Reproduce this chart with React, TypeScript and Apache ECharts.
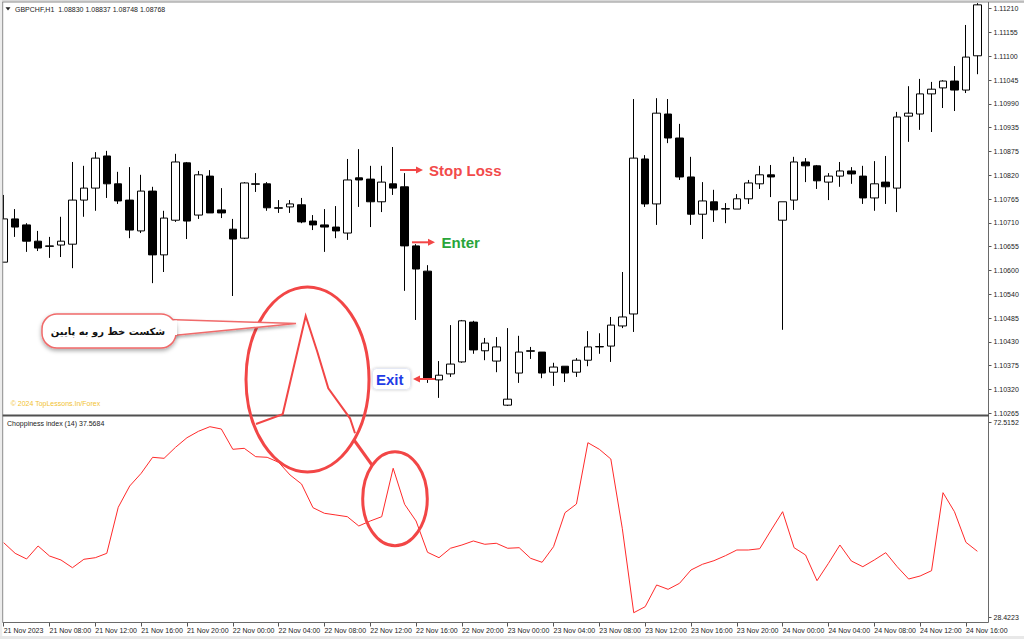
import React, { useEffect, useRef } from "react";
import * as echarts from "echarts";

const priceTickLabels = [
  "1.10265", "1.10320", "1.10375", "1.10430", "1.10485", "1.10540",
  "1.10600", "1.10655", "1.10710", "1.10765", "1.10820", "1.10875",
  "1.10935", "1.10990", "1.11045", "1.11100", "1.11155", "1.11210",
];
const priceMin = 1.10265;
const priceMax = 1.1121;

const chopTickLabels = ["28.4223", "72.5152"];
const chopMin = 28.4223;
const chopMax = 72.5152;

const xTickLabels = [
  "21 Nov 2023", "21 Nov 08:00", "21 Nov 12:00", "21 Nov 16:00", "21 Nov 20:00",
  "22 Nov 00:00", "22 Nov 04:00", "22 Nov 08:00", "22 Nov 12:00", "22 Nov 16:00",
  "22 Nov 20:00", "23 Nov 00:00", "23 Nov 04:00", "23 Nov 08:00", "23 Nov 12:00",
  "23 Nov 16:00", "23 Nov 20:00", "24 Nov 00:00", "24 Nov 04:00", "24 Nov 08:00",
  "24 Nov 12:00", "24 Nov 16:00",
];

const opens = [
  1.10618, 1.10719, 1.10705, 1.10667, 1.10656, 1.10658, 1.1066, 1.10763, 1.10791, 1.10866,
  1.10801, 1.10763, 1.10691, 1.10784, 1.10635, 1.10716, 1.1085, 1.10728, 1.10819, 1.1074,
  1.10695, 1.10674, 1.10801, 1.10801, 1.10745, 1.10747, 1.10752, 1.10714, 1.10705, 1.107,
  1.10686, 1.10815, 1.10812, 1.10759, 1.10801, 1.10794, 1.10656, 1.10597, 1.10343, 1.10357,
  1.10385, 1.10478, 1.10411, 1.10387, 1.10284, 1.10359, 1.10411, 1.10408, 1.10361, 1.10375,
  1.10361, 1.10389, 1.1042, 1.10422, 1.10469, 1.10497, 1.10859, 1.10754, 1.10964, 1.10908,
  1.10817, 1.1073, 1.10759, 1.10742, 1.10742, 1.10766, 1.10801, 1.10822, 1.10716, 1.10763,
  1.10852, 1.10843, 1.10805, 1.10819, 1.10831, 1.10819, 1.10768, 1.10805, 1.10791, 1.10959,
  1.10964, 1.11011, 1.11025, 1.11041, 1.1102, 1.111,
];
const closes = [
  1.10719, 1.107, 1.10667, 1.10651, 1.10655, 1.10667, 1.10763, 1.10791, 1.10861, 1.10801,
  1.10761, 1.10693, 1.10784, 1.10635, 1.10721, 1.10852, 1.10714, 1.10822, 1.10733, 1.10733,
  1.10672, 1.10803, 1.108, 1.10745, 1.10744, 1.10754, 1.10712, 1.10705, 1.107, 1.10691,
  1.1081, 1.1081, 1.10759, 1.10805, 1.10791, 1.10656, 1.10602, 1.10345, 1.10354, 1.1038,
  1.10481, 1.10413, 1.10429, 1.1042, 1.10298, 1.10408, 1.1041, 1.10359, 1.10373, 1.10359,
  1.10389, 1.1042, 1.10421, 1.10471, 1.1049, 1.10861, 1.10754, 1.10966, 1.10908, 1.10817,
  1.1073, 1.10761, 1.1074, 1.10743, 1.10766, 1.10803, 1.10822, 1.10817, 1.10759, 1.10852,
  1.10843, 1.10808, 1.10819, 1.10831, 1.10824, 1.10768, 1.10801, 1.10794, 1.10957, 1.10966,
  1.11011, 1.11022, 1.11041, 1.1102, 1.11097, 1.11219,
];
const lows = [
  1.10618, 1.10677, 1.10642, 1.10644, 1.10628, 1.1063, 1.10604, 1.10724, 1.10738, 1.10768,
  1.10754, 1.10674, 1.10686, 1.10569, 1.10595, 1.10712, 1.10672, 1.10719, 1.10733, 1.10721,
  1.10539, 1.10672, 1.10782, 1.10738, 1.10733, 1.10733, 1.10709, 1.10693, 1.10642, 1.10674,
  1.1067, 1.10747, 1.107, 1.10735, 1.10775, 1.10551, 1.10483, 1.10336, 1.10301, 1.1035,
  1.10383, 1.10404, 1.10389, 1.10361, 1.10282, 1.10336, 1.10392, 1.10347, 1.10329, 1.10338,
  1.1035, 1.10375, 1.10404, 1.10385, 1.10464, 1.10455, 1.10747, 1.10705, 1.10896, 1.1081,
  1.10705, 1.10672, 1.10712, 1.10709, 1.10742, 1.10754, 1.10789, 1.1077, 1.1046, 1.1074,
  1.10805, 1.10789, 1.10763, 1.10794, 1.10801, 1.10754, 1.10738, 1.10754, 1.10735, 1.10899,
  1.10927, 1.10922, 1.10978, 1.10971, 1.11013, 1.11057,
];
const highs = [
  1.10775, 1.10742, 1.10709, 1.10691, 1.10677, 1.10724, 1.10852, 1.10843, 1.10875, 1.10878,
  1.10829, 1.1084, 1.10822, 1.10794, 1.10738, 1.10871, 1.10852, 1.10831, 1.10833, 1.10791,
  1.10719, 1.10805, 1.10826, 1.10805, 1.10763, 1.10763, 1.10768, 1.10728, 1.10742, 1.10749,
  1.10859, 1.10882, 1.10843, 1.10843, 1.10887, 1.10826, 1.1066, 1.10611, 1.10387, 1.10471,
  1.10483, 1.10481, 1.10441, 1.10443, 1.10464, 1.10446, 1.1042, 1.10408, 1.10383, 1.10375,
  1.10394, 1.10457, 1.10452, 1.1049, 1.10595, 1.10999, 1.10868, 1.11001, 1.10999, 1.10941,
  1.10864, 1.10805, 1.10787, 1.10756, 1.10777, 1.1081, 1.10843, 1.10845, 1.10759, 1.10864,
  1.10861, 1.10845, 1.10826, 1.10852, 1.1084, 1.10843, 1.10854, 1.10866, 1.10969, 1.11029,
  1.11046, 1.11039, 1.11043, 1.11076, 1.11172, 1.11223,
];

const chopValues = [
  45.29, 42.89, 41.61, 44.55, 42.28, 41.38, 39.64, 41.54, 41.9, 42.89,
  53.3, 58.11, 60.98, 64.6, 64.37, 66.86, 69.03, 70.48, 71.52, 71.0,
  66.41, 66.63, 64.74, 64.6, 63.47, 60.6, 58.57, 53.21, 51.94, 51.56,
  51.17, 49.07, 50.2, 51.17, 62.12, 53.97, 50.2, 43.12, 41.9, 44.03,
  44.77, 45.68, 44.93, 45.16, 44.03, 44.16, 41.76, 40.86, 44.39, 52.07,
  54.04, 67.9, 66.41, 64.22, 48.55, 29.46, 30.82, 35.73, 34.75, 36.11,
  39.12, 40.41, 41.22, 42.35, 43.64, 43.64, 43.93, 48.16, 52.3, 44.16,
  42.51, 36.7, 40.63, 44.77, 41.15, 39.86, 41.38, 43.03, 39.86, 37.08,
  37.76, 38.96, 56.6, 52.3, 45.38, 43.35,
];

const categories = opens.map((_, i) => {
  const h = 4 + i;
  const d = 21 + Math.floor(h / 24);
  return `${d} Nov ${String(h % 24).padStart(2, "0")}:00`;
});

const FONT = "Liberation Sans";

function arrow(x1: number, y1: number, x2: number, y2: number, color: string) {
  const dir = Math.sign(x2 - x1);
  return [
    {
      type: "line",
      z: 100,
      shape: { x1, y1, x2: x2 - dir * 5, y2 },
      style: { stroke: color, lineWidth: 2 },
    },
    {
      type: "polygon",
      z: 100,
      shape: {
        points: [
          [x2, y2],
          [x2 - dir * 7, y2 - 3.5],
          [x2 - dir * 7, y2 + 3.5],
        ],
      },
      style: { fill: color },
    },
  ];
}

function bigLabel(text: string, x: number, y: number, color: string) {
  return {
    type: "text",
    z: 101,
    x,
    y,
    style: {
      text,
      fill: color,
      font: `bold 15px "${FONT}"`,
      textVerticalAlign: "middle",
      stroke: "#ffffff",
      lineWidth: 4,
      shadowColor: "rgba(0,0,0,0.25)",
      shadowBlur: 3,
    },
  };
}

export default function App() {
  const ref = useRef<HTMLDivElement>(null);

  useEffect(() => {
    const chart = echarts.init(ref.current!, null, { renderer: "svg" });
    const gridLeft = -2.03;
    const gridWidth = 985.13;
    const red = "#f24646";

    const option: any = {
      animation: false,
      backgroundColor: "#ffffff",
      grid: [
        { left: gridLeft, width: gridWidth, top: 8.7, height: 404.6, outerBoundsMode: "none" },
        { left: gridLeft, width: gridWidth, top: 422.3, height: 195, outerBoundsMode: "none" },
      ],
      xAxis: [
        {
          type: "category",
          gridIndex: 0,
          data: categories,
          boundaryGap: true,
          show: false,
        },
        {
          type: "category",
          gridIndex: 1,
          data: categories,
          boundaryGap: true,
          offset: 5.2,
          axisLine: { show: false },
          axisTick: {
            show: true,
            alignWithLabel: true,
            interval: (i: number) => i % 4 === 0,
            length: 4,
            lineStyle: { color: "#555" },
          },
          axisLabel: {
            show: true,
            interval: (i: number) => i % 4 === 0,
            formatter: (_v: string, i: number) => (i % 4 === 0 ? xTickLabels[i / 4] ?? "" : ""),
            align: "left",
            margin: 4,
            fontSize: 7,
            fontFamily: FONT,
            color: "#222",
          },
          splitLine: { show: false },
        },
      ],
      yAxis: [
        {
          type: "value",
          gridIndex: 0,
          min: priceMin,
          max: priceMax,
          show: false,
        },
        {
          type: "category",
          gridIndex: 0,
          data: priceTickLabels,
          boundaryGap: false,
          position: "right",
          offset: 5.4,
          axisLine: { show: false },
          axisTick: { show: true, length: 3, interval: 0, lineStyle: { color: "#555" } },
          axisLabel: { interval: 0, margin: 5, fontSize: 7, fontFamily: FONT, color: "#222" },
          splitLine: { show: false },
        },
        {
          type: "value",
          gridIndex: 1,
          min: chopMin,
          max: chopMax,
          show: false,
        },
        {
          type: "category",
          gridIndex: 1,
          data: chopTickLabels,
          boundaryGap: false,
          position: "right",
          offset: 5.4,
          axisLine: { show: false },
          axisTick: { show: true, length: 3, interval: 0, lineStyle: { color: "#555" } },
          axisLabel: { interval: 0, margin: 5, fontSize: 7, fontFamily: FONT, color: "#222" },
          splitLine: { show: false },
        },
      ],
      series: [
        {
          type: "candlestick",
          xAxisIndex: 0,
          yAxisIndex: 0,
          clip: false,
          barWidth: 8,
          data: categories.map((_, i) => [opens[i], closes[i], lows[i], highs[i]]),
          itemStyle: {
            color: "#ffffff",
            color0: "#000000",
            borderColor: "#000000",
            borderColor0: "#000000",
            borderColorDoji: "#000000",
            borderWidth: 1,
          },
        },
        {
          type: "line",
          xAxisIndex: 1,
          yAxisIndex: 2,
          data: chopValues,
          symbol: "none",
          lineStyle: { color: "#ff2a2a", width: 1 },
        },
      ],
      graphic: [
        // frame
        { type: "rect", z: 90, shape: { x: 0, y: 0, width: 1024, height: 1.5 }, style: { fill: "#d8d8d8" } },
        { type: "line", z: 90, shape: { x1: 0, y1: 2, x2: 1024, y2: 2 }, style: { stroke: "#8c8c8c", lineWidth: 1 } },
        { type: "rect", z: 90, shape: { x: 0, y: 0, width: 2.2, height: 639 }, style: { fill: "#ececec" } },
        { type: "line", z: 90, shape: { x1: 2.7, y1: 2, x2: 2.7, y2: 622.5 }, style: { stroke: "#8a8a8a", lineWidth: 1 } },
        { type: "line", z: 90, shape: { x1: 988.5, y1: 2, x2: 988.5, y2: 622.5 }, style: { stroke: "#6a6a6a", lineWidth: 1 } },
        { type: "line", z: 90, shape: { x1: 2.7, y1: 415.5, x2: 989, y2: 415.5 }, style: { stroke: "#505050", lineWidth: 2 } },
        { type: "line", z: 90, shape: { x1: 2.7, y1: 622.5, x2: 988.5, y2: 622.5 }, style: { stroke: "#6a6a6a", lineWidth: 1 } },
        { type: "rect", z: 90, shape: { x: 0, y: 636, width: 1024, height: 3 }, style: { fill: "#e8e8e8" } },
        // header texts
        {
          type: "polygon",
          z: 100,
          shape: { points: [[5.5, 7.3], [10.5, 7.3], [8, 10.5]] },
          style: { fill: "#222" },
        },
        {
          type: "text",
          z: 100,
          x: 15,
          y: 9,
          style: {
            text: "GBPCHF,H1  1.08830 1.08837 1.08748 1.08768",
            font: `7px "${FONT}"`,
            fill: "#222",
            textVerticalAlign: "middle",
          },
        },
        {
          type: "text",
          z: 100,
          x: 7,
          y: 423.3,
          style: {
            text: "Choppiness index (14) 37.5684",
            font: `7px "${FONT}"`,
            fill: "#222",
            textVerticalAlign: "middle",
          },
        },
        {
          type: "text",
          z: 100,
          x: 10.7,
          y: 403.3,
          style: {
            text: "© 2024 TopLessons.In/Forex",
            font: `7px "${FONT}"`,
            fill: "#f2c230",
            textVerticalAlign: "middle",
          },
        },
        // arrows and labels
        ...arrow(400, 170, 423, 170, red),
        bigLabel("Stop Loss", 429, 170.7, "#f24a4a"),
        ...arrow(412, 242.3, 435, 242.3, red),
        bigLabel("Enter", 441.5, 242.3, "#28a53a"),
        {
          type: "rect",
          z: 100,
          shape: { x: 372.5, y: 368.5, width: 38, height: 21, r: 4 },
          style: { fill: "#ffffff", stroke: "#e4e8f4", lineWidth: 1, shadowColor: "rgba(0,0,0,0.2)", shadowBlur: 3 },
        },
        bigLabel("Exit", 376, 379, "#1f3ce6"),
        ...arrow(435, 379, 413, 379, red),
        // big ellipse and its zoomed peak
        {
          type: "ellipse",
          z: 100,
          shape: { cx: 307.5, cy: 379.5, rx: 61.5, ry: 92.5 },
          style: { fill: "none", stroke: red, lineWidth: 3 },
        },
        {
          type: "polyline",
          z: 100,
          shape: {
            points: [[256, 424], [282.7, 414.3], [305.7, 316], [317.3, 351.7], [328.3, 388.3], [350, 418.3], [355, 433.3]],
          },
          style: { stroke: red, lineWidth: 2, fill: "none" },
        },
        {
          type: "line",
          z: 100,
          shape: { x1: 354, y1: 440, x2: 372, y2: 465 },
          style: { stroke: red, lineWidth: 3 },
        },
        {
          type: "ellipse",
          z: 100,
          shape: { cx: 395, cy: 498.7, rx: 32.3, ry: 47 },
          style: { fill: "none", stroke: red, lineWidth: 3 },
        },
        // callout bubble
        {
          type: "polygon",
          z: 100,
          shape: { points: [[168, 319.5], [296, 323.5], [168, 336]] },
          style: { fill: "#ffffff", stroke: "#f06a6a", lineWidth: 1.5, shadowColor: "rgba(0,0,0,0.3)", shadowBlur: 3, shadowOffsetY: 2 },
        },
        {
          type: "rect",
          z: 100,
          shape: { x: 42, y: 314, width: 134, height: 34, r: 15 },
          style: { fill: "#ffffff", stroke: "#f06a6a", lineWidth: 1.5, shadowColor: "rgba(0,0,0,0.35)", shadowBlur: 4, shadowOffsetY: 2 },
        },
        {
          type: "rect",
          z: 100,
          shape: { x: 165, y: 320.5, width: 12, height: 14.5 },
          style: { fill: "#ffffff" },
        },
        {
          type: "text",
          z: 101,
          x: 108,
          y: 331,
          style: {
            text: "شکست خط رو به پایین",
            font: 'bold 10px "DejaVu Sans"',
            fill: "#111",
            textAlign: "center",
            textVerticalAlign: "middle",
          },
        },
      ],
    };

    chart.setOption(option);
    return () => chart.dispose();
  }, []);

  return (
    <div
      ref={ref}
      style={{ position: "fixed", left: 0, top: 0, width: 1024, height: 639, background: "#ffffff" }}
    />
  );
}
